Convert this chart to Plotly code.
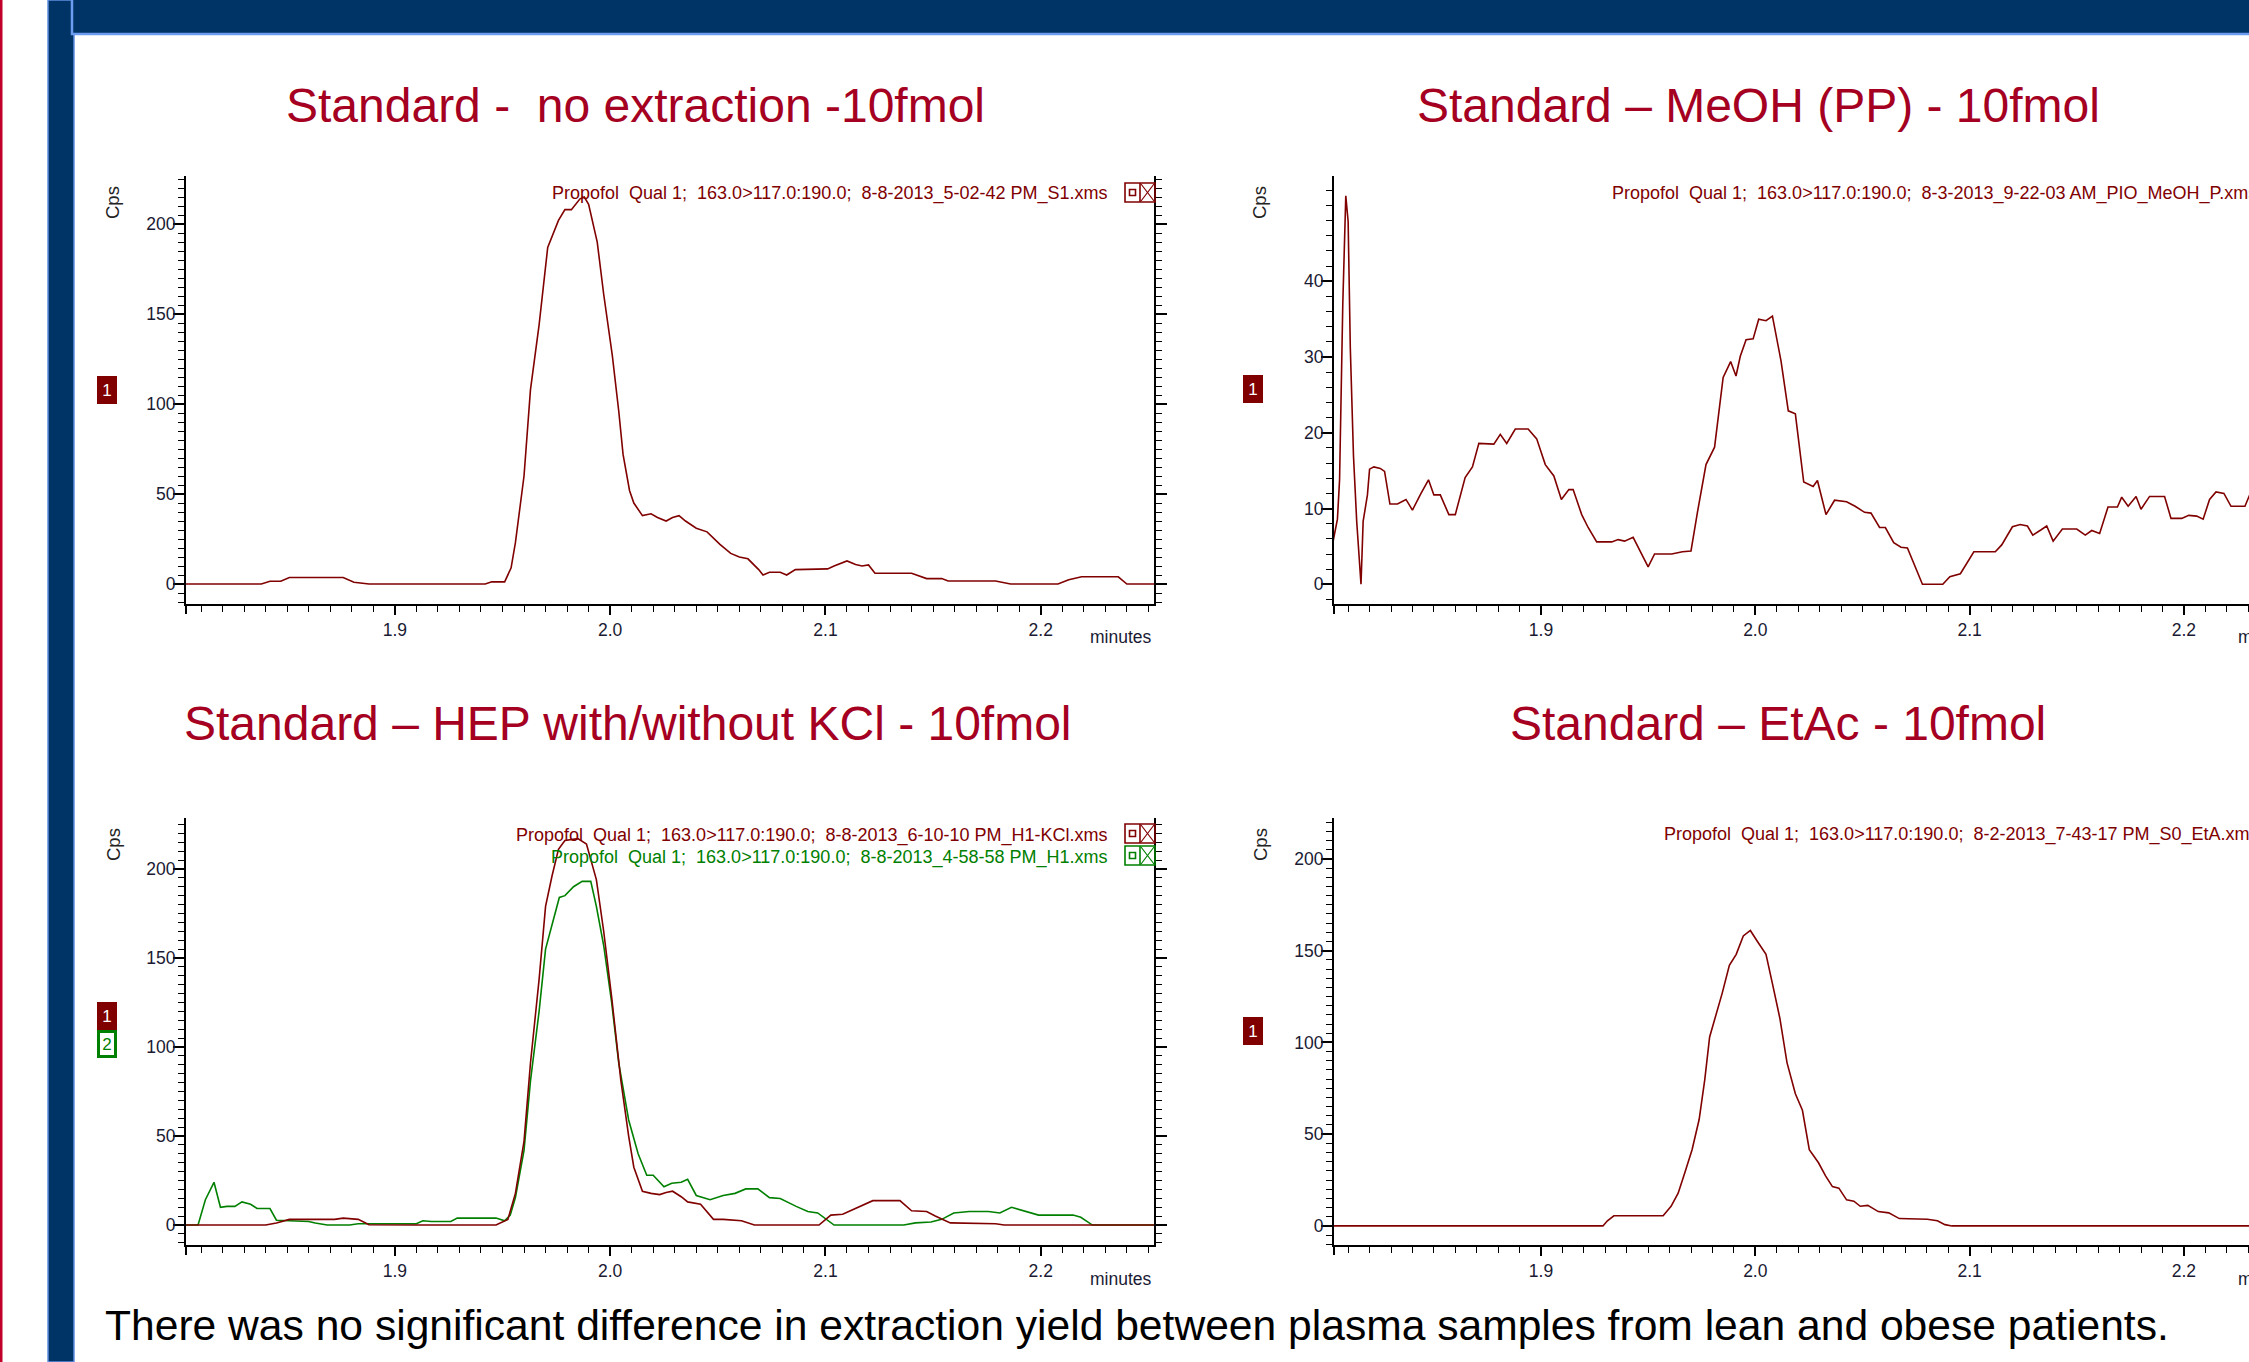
import plotly.graph_objects as go

W, H = 2249, 1362

# ---------------- data ----------------
# Panel 1: Standard - no extraction
p1_x = [1.802, 1.838, 1.842, 1.847, 1.851, 1.876, 1.881, 1.888, 1.942, 1.945, 1.951, 1.954, 1.956, 1.960,
        1.963, 1.967, 1.971, 1.976, 1.979, 1.982, 1.986, 1.988, 1.990, 1.994, 1.997, 2.001, 2.004, 2.006,
        2.009, 2.011, 2.015, 2.019, 2.022, 2.026, 2.029, 2.032, 2.035, 2.040, 2.045, 2.051, 2.056, 2.060,
        2.064, 2.069, 2.071, 2.074, 2.079, 2.082, 2.086, 2.101, 2.104, 2.110, 2.114, 2.117, 2.120, 2.123,
        2.140, 2.147, 2.154, 2.157, 2.179, 2.186, 2.208, 2.213, 2.219, 2.236, 2.240, 2.254]
p1_y = [0, 0, 1.5, 1.5, 3.6, 3.6, 1, 0, 0, 1.2, 1.2, 9, 23, 60,
        108, 144, 187, 202, 208, 208, 214, 215, 211, 190, 161, 127, 96, 72,
        52, 45, 38, 39, 37, 35, 37, 38, 35, 31, 29, 22, 17, 15,
        14, 8, 5, 6.5, 6.5, 5, 8, 8.4, 10, 12.8, 10.8, 10, 10.6, 6,
        6, 3, 3, 1.7, 1.7, 0, 0, 2.4, 4, 4, 0, 0]

# Panel 2: Standard - MeOH (PP)
p2_x = [1.803, 1.805, 1.806, 1.8075, 1.8089, 1.810, 1.811, 1.8125, 1.814, 1.816, 1.817, 1.819, 1.820, 1.822,
        1.825, 1.827, 1.8295, 1.833, 1.837, 1.840, 1.844, 1.8475, 1.850, 1.853, 1.857, 1.860, 1.8646, 1.868,
        1.871, 1.876, 1.878, 1.881, 1.884, 1.888, 1.894, 1.898, 1.902, 1.906, 1.9095, 1.913, 1.915, 1.919,
        1.922, 1.926, 1.933, 1.936, 1.939, 1.943, 1.9466, 1.950, 1.953, 1.961, 1.966, 1.970, 1.973, 1.977,
        1.981, 1.983, 1.985, 1.9885, 1.991, 1.993, 1.9957, 1.999, 2.0016, 2.005, 2.008, 2.012, 2.0154, 2.0187,
        2.0226, 2.027, 2.029, 2.033, 2.037, 2.0426, 2.0466, 2.051, 2.054, 2.058, 2.0607, 2.0646, 2.068, 2.071,
        2.078, 2.0875, 2.0908, 2.0957, 2.102, 2.112, 2.115, 2.120, 2.1236, 2.127, 2.1295, 2.1334, 2.136, 2.139,
        2.1433, 2.150, 2.154, 2.157, 2.1607, 2.1646, 2.169, 2.171, 2.174, 2.1777, 2.180, 2.184, 2.191, 2.194,
        2.199, 2.2023, 2.206, 2.209, 2.212, 2.215, 2.2187, 2.222, 2.2285, 2.231]
p2_y = [5.7, 8.6, 13.8, 37, 51.3, 47.9, 31.3, 16.9, 8.3, 0, 8.3, 11.8, 15.2, 15.5,
        15.3, 14.9, 10.6, 10.6, 11.2, 9.8, 12.0, 13.8, 11.8, 11.8, 9.2, 9.2, 14.1, 15.5,
        18.6, 18.6, 18.5, 19.8, 18.6, 20.5, 20.5, 19.2, 15.8, 14.3, 11.2, 12.5, 12.5, 9.2,
        7.5, 5.6, 5.6, 5.9, 5.7, 6.2, 4.3, 2.3, 4.0, 4.0, 4.3, 4.4, 9.5, 15.8,
        18.1, 22.7, 27.3, 29.4, 27.5, 30.1, 32.3, 32.4, 35.0, 34.8, 35.4, 29.5, 22.9, 22.5,
        13.5, 12.9, 13.7, 9.2, 11.1, 10.9, 10.3, 9.5, 9.4, 7.5, 7.5, 5.5, 4.9, 4.8,
        0, 0, 1.0, 1.4, 4.3, 4.3, 5.2, 7.6, 7.9, 7.7, 6.5, 7.2, 7.7, 5.7,
        7.3, 7.3, 6.5, 7.1, 6.7, 10.2, 10.2, 11.5, 10.3, 11.6, 9.9, 11.6, 11.6, 8.7,
        8.7, 9.1, 9.0, 8.6, 11.2, 12.2, 12.0, 10.3, 10.3, 12.0]

# Panel 3: Standard - HEP with/without KCl
p3_kcl_x = [1.802, 1.840, 1.845, 1.851, 1.872, 1.876, 1.883, 1.888, 1.910, 1.947, 1.9525, 1.956, 1.960, 1.963,
            1.967, 1.970, 1.973, 1.976, 1.979, 1.985, 1.989, 1.9936, 1.997, 2.0007, 2.005, 2.0086, 2.011, 2.015,
            2.019, 2.023, 2.026, 2.029, 2.033, 2.036, 2.042, 2.048, 2.0525, 2.061, 2.067, 2.097, 2.1025, 2.108,
            2.122, 2.1346, 2.140, 2.147, 2.151, 2.158, 2.179, 2.183, 2.224, 2.254]
p3_kcl_y = [0, 0, 1.2, 3.2, 3.2, 3.9, 3.2, 0.2, 0, 0, 3.2, 17.8, 47, 91,
            138, 179, 196, 211, 216, 217, 214, 194, 165, 128, 81, 50, 32.5, 19,
            17.8, 17.1, 18.3, 19, 15.9, 13, 11.7, 3.2, 3.2, 2.4, 0, 0, 5.6, 6.1,
            13.7, 13.7, 8, 7.6, 5.1, 1.2, 0.7, 0, 0, 0]
p3_h1_x = [1.802, 1.8086, 1.812, 1.816, 1.819, 1.822, 1.8257, 1.829, 1.833, 1.836, 1.842, 1.845, 1.851, 1.860,
           1.863, 1.8686, 1.879, 1.883, 1.910, 1.913, 1.917, 1.926, 1.929, 1.947, 1.951, 1.9536, 1.956, 1.960,
           1.963, 1.967, 1.970, 1.973, 1.9764, 1.979, 1.983, 1.987, 1.991, 1.9936, 1.997, 2.0007, 2.004, 2.0086,
           2.013, 2.017, 2.020, 2.025, 2.0286, 2.033, 2.036, 2.040, 2.0464, 2.0525, 2.058, 2.063, 2.0686, 2.074,
           2.079, 2.0864, 2.0918, 2.0964, 2.1007, 2.104, 2.1364, 2.1418, 2.149, 2.154, 2.1596, 2.1668, 2.1757, 2.181,
           2.1864, 2.192, 2.199, 2.215, 2.2186, 2.224, 2.254]
p3_h1_y = [0, 0, 14.2, 24, 10, 10.5, 10.5, 13, 11.7, 9.3, 9.3, 2.7, 2.4, 2,
           1.2, 0, 0, 0.7, 0.7, 2.4, 2, 2, 3.9, 3.9, 2.4, 5.6, 15.4, 42,
           81, 120, 155, 169, 184, 185, 190, 193, 193, 179, 157, 125, 91, 59,
           40, 28, 28, 21.5, 23.5, 24, 25.7, 16.6, 14.2, 16.6, 17.8, 20.3, 20.3, 15.4,
           14.9, 10.5, 7.6, 6.8, 3.2, 0, 0, 1.2, 1.7, 3.2, 6.8, 7.6, 7.6, 6.8,
           10, 8, 5.6, 5.6, 4.4, 0, 0]

# Panel 4: Standard - EtAc
p4_x = [1.8023, 1.9289, 1.931, 1.934, 1.946, 1.957, 1.9607, 1.964, 1.967, 1.9705, 1.9738, 1.9764, 1.9787, 1.9813,
        1.9846, 1.9879, 1.9911, 1.9944, 1.9977, 2.001, 2.005, 2.008, 2.0115, 2.0148, 2.0187, 2.022, 2.0252, 2.0295,
        2.0328, 2.036, 2.039, 2.0426, 2.046, 2.049, 2.0525, 2.0574, 2.0623, 2.0672, 2.0803, 2.085, 2.0885, 2.0918,
        2.2305]
p4_y = [0, 0, 2.8, 5.5, 5.5, 5.5, 10.7, 17.8, 28.5, 41.5, 58, 79.5, 103, 113,
        127, 142, 148, 158, 161, 155, 148, 132, 113, 89, 72, 63, 41.5, 34.4,
        27.3, 21.4, 20.6, 14.2, 13.5, 10.7, 11.2, 7.8, 7.1, 4.0, 3.6, 2.8, 0.7, 0,
        0]

# tick values
x_ticks = [1.9, 2.0, 2.1, 2.2]
x_ticklabels = ["1.9", "2.0", "2.1", "2.2"]
y_ticks_big = [0, 50, 100, 150, 200]
y_ticks_small = [0, 10, 20, 30, 40]

titles = ["Standard -\u00a0 no extraction -10fmol",
          "Standard \u2013 MeOH (PP) - 10fmol",
          "Standard \u2013 HEP with/without KCl - 10fmol",
          "Standard \u2013 EtAc - 10fmol"]
trace_labels = [
    "Propofol\u00a0 Qual 1;\u00a0 163.0&gt;117.0:190.0;\u00a0 8-8-2013_5-02-42 PM_S1.xms",
    "Propofol\u00a0 Qual 1;\u00a0 163.0&gt;117.0:190.0;\u00a0 8-3-2013_9-22-03 AM_PIO_MeOH_P.xms",
    "Propofol\u00a0 Qual 1;\u00a0 163.0&gt;117.0:190.0;\u00a0 8-8-2013_6-10-10 PM_H1-KCl.xms",
    "Propofol\u00a0 Qual 1;\u00a0 163.0&gt;117.0:190.0;\u00a0 8-8-2013_4-58-58 PM_H1.xms",
    "Propofol\u00a0 Qual 1;\u00a0 163.0&gt;117.0:190.0;\u00a0 8-2-2013_7-43-17 PM_S0_EtA.xms",
]
footer = "There was no significant difference in extraction yield between plasma samples from lean and obese patients."

# ---------------- styling ----------------
MAROON = "#800000"
GREEN = "#008000"
TITLE = "#A50021"
NAVY = "#003366"
FONT = "Liberation Sans, Arial, sans-serif"


def px(x):
    return x / W


def py(y):
    return 1 - y / H


fig = go.Figure()
fig.add_trace(go.Scatter(x=p1_x, y=p1_y, mode="lines", line=dict(color=MAROON, width=1.6),
                         xaxis="x", yaxis="y", showlegend=False))
fig.add_trace(go.Scatter(x=p2_x, y=p2_y, mode="lines", line=dict(color=MAROON, width=1.6),
                         xaxis="x2", yaxis="y2", showlegend=False))
fig.add_trace(go.Scatter(x=p3_h1_x, y=p3_h1_y, mode="lines", line=dict(color=GREEN, width=1.6),
                         xaxis="x3", yaxis="y3", showlegend=False))
fig.add_trace(go.Scatter(x=p3_kcl_x, y=p3_kcl_y, mode="lines", line=dict(color=MAROON, width=1.6),
                         xaxis="x3", yaxis="y3", showlegend=False))
fig.add_trace(go.Scatter(x=p4_x, y=p4_y, mode="lines", line=dict(color=MAROON, width=1.6),
                         xaxis="x4", yaxis="y4", showlegend=False))

tickfont = dict(family=FONT, size=17.5, color="#1a1a33")


def xax(domain, rng, anchor):
    return dict(domain=domain, range=rng, anchor=anchor, showline=True, linecolor="black", linewidth=2,
                ticks="outside", ticklen=9, tickwidth=1.5, tickcolor="black",
                tickmode="array", tickvals=x_ticks, ticktext=x_ticklabels,
                tickfont=tickfont, showgrid=False, zeroline=False,
                minor=dict(dtick=0.01, tick0=1.9, ticks="outside", ticklen=6, tickwidth=1, tickcolor="black",
                           showgrid=False))


def yax(domain, rng, anchor, tv, mdtick, mirror):
    return dict(domain=domain, range=rng, anchor=anchor, showline=True, linecolor="black", linewidth=2,
                ticks="outside", ticklen=11, tickwidth=1.5, tickcolor="black",
                tickmode="array", tickvals=tv, ticklabelstandoff=-6,
                tickfont=tickfont, showgrid=False, zeroline=False, mirror=mirror,
                minor=dict(dtick=mdtick, tick0=0, ticks="outside", ticklen=6, tickwidth=1, tickcolor="black",
                           showgrid=False))


xL = [px(186), px(1154)]
xR = [px(1334), 1.0]
yT = [py(604), py(176)]
yB = [py(1245), py(818)]

fig.update_layout(
    width=W, height=H, margin=dict(l=0, r=0, t=0, b=0),
    paper_bgcolor="white", plot_bgcolor="white",
    font=dict(family=FONT),
    xaxis=xax(xL, [1.803, 2.2526], "y"),
    yaxis=yax(yT, [-11.1, 226.7], "x", y_ticks_big, 5, "ticks"),
    xaxis2=xax(xR, [1.8034, 2.2304], "y2"),
    yaxis2=yax(yT, [-2.6, 53.9], "x2", y_ticks_small, 2, False),
    xaxis3=xax(xL, [1.803, 2.2526], "y3"),
    yaxis3=yax(yB, [-11.2, 228.6], "x3", y_ticks_big, 5, "ticks"),
    xaxis4=xax(xR, [1.8034, 2.2304], "y4"),
    yaxis4=yax(yB, [-10.4, 222.3], "x4", y_ticks_big, 5, False),
)

shapes = []
# page decoration
shapes.append(dict(type="rect", xref="paper", yref="paper", x0=0, x1=px(2.5), y0=0, y1=1,
                   fillcolor="#C0002A", line=dict(width=0), layer="above"))
shapes.append(dict(type="rect", xref="paper", yref="paper", x0=px(48), x1=px(74), y0=0, y1=1,
                   fillcolor=NAVY, line=dict(color="#5F8FE0", width=1.5), layer="above"))
shapes.append(dict(type="rect", xref="paper", yref="paper", x0=px(72), x1=px(2260), y0=py(34), y1=py(-10),
                   fillcolor=NAVY, line=dict(color="#6C9CF0", width=2.5), layer="above"))

# small extension of the y axis lines below the x axis
for (ax_x, y_bot) in [(186, 604), (1334, 604), (186, 1245), (1334, 1245)]:
    shapes.append(dict(type="line", xref="paper", yref="paper", x0=px(ax_x), x1=px(ax_x),
                       y0=py(y_bot), y1=py(y_bot + 10), line=dict(color="black", width=2)))


def icon(x0, y0, color):
    w, h = 30, 19
    lw = 1.6
    out = [
        dict(type="rect", x0=px(x0), x1=px(x0 + w), y0=py(y0 + h), y1=py(y0), line=dict(color=color, width=lw)),
        dict(type="line", x0=px(x0 + 15), x1=px(x0 + 15), y0=py(y0 + h), y1=py(y0), line=dict(color=color, width=lw)),
        dict(type="rect", x0=px(x0 + 4.5), x1=px(x0 + 10.5), y0=py(y0 + 12.5), y1=py(y0 + 6.5),
             line=dict(color=color, width=lw)),
        dict(type="line", x0=px(x0 + 16), x1=px(x0 + 29), y0=py(y0 + 1), y1=py(y0 + h - 1),
             line=dict(color=color, width=1.2)),
        dict(type="line", x0=px(x0 + 16), x1=px(x0 + 29), y0=py(y0 + h - 1), y1=py(y0 + 1),
             line=dict(color=color, width=1.2)),
    ]
    for s in out:
        s["xref"] = "paper"
        s["yref"] = "paper"
    return out


shapes += icon(1125, 183, MAROON)
shapes += icon(1125, 824, MAROON)
shapes += icon(1125, 846, GREEN)
fig.update_layout(shapes=shapes)

ann = []


def text(x, y, s, size, color, xanchor="center", angle=0):
    ann.append(dict(x=px(x), y=py(y), xref="paper", yref="paper", text=s, showarrow=False,
                    xanchor=xanchor, yanchor="middle", textangle=angle,
                    font=dict(family=FONT, size=size, color=color)))


# titles
text(635, 105, titles[0], 48, TITLE)
text(1758, 105, titles[1], 48, TITLE)
text(628, 723, titles[2], 48, TITLE)
text(1778, 723, titles[3], 48, TITLE)

# Cps labels
for (cx, cy) in [(113, 203), (1260, 203), (113, 845), (1260, 845)]:
    text(cx, cy, "Cps", 18.5, "#222222", angle=-90)

# minutes labels
text(1154, 637, "minutes", 17.5, "#1a1a33", xanchor="right")
text(1154, 1279, "minutes", 17.5, "#1a1a33", xanchor="right")
text(2236, 637, "minutes", 17.5, "#1a1a33", xanchor="left")
text(2236, 1279, "minutes", 17.5, "#1a1a33", xanchor="left")

# trace labels
text(1110, 193, trace_labels[0], 18, MAROON, xanchor="right")
text(1610, 193, trace_labels[1], 18, MAROON, xanchor="left")
text(1110, 835, trace_labels[2], 18, MAROON, xanchor="right")
text(1110, 857, trace_labels[3], 18, GREEN, xanchor="right")
text(1662, 834, trace_labels[4], 18, MAROON, xanchor="left")

# footer
text(103, 1325, footer, 42.6, "black", xanchor="left")


def badge(x, y, s, fill, color, border, bw):
    ann.append(dict(x=px(x), y=py(y), xref="paper", yref="paper", text=s, showarrow=False,
                    xanchor="center", yanchor="middle", bgcolor=fill, bordercolor=border, borderwidth=bw,
                    borderpad=0, width=20 - 2 * bw, height=28 - 2 * bw,
                    font=dict(family=FONT, size=17, color=color)))


badge(107, 390, "1", MAROON, "white", MAROON, 0)
badge(1253, 389, "1", MAROON, "white", MAROON, 0)
badge(107, 1016, "1", MAROON, "white", MAROON, 0)
badge(107, 1044, "2", "white", GREEN, GREEN, 3)
badge(1253, 1031, "1", MAROON, "white", MAROON, 0)

fig.update_layout(annotations=ann)

fig.write_html("out.html", config={"displayModeBar": False},
               post_script="document.body.style.margin='0';document.body.style.overflow='hidden';")
